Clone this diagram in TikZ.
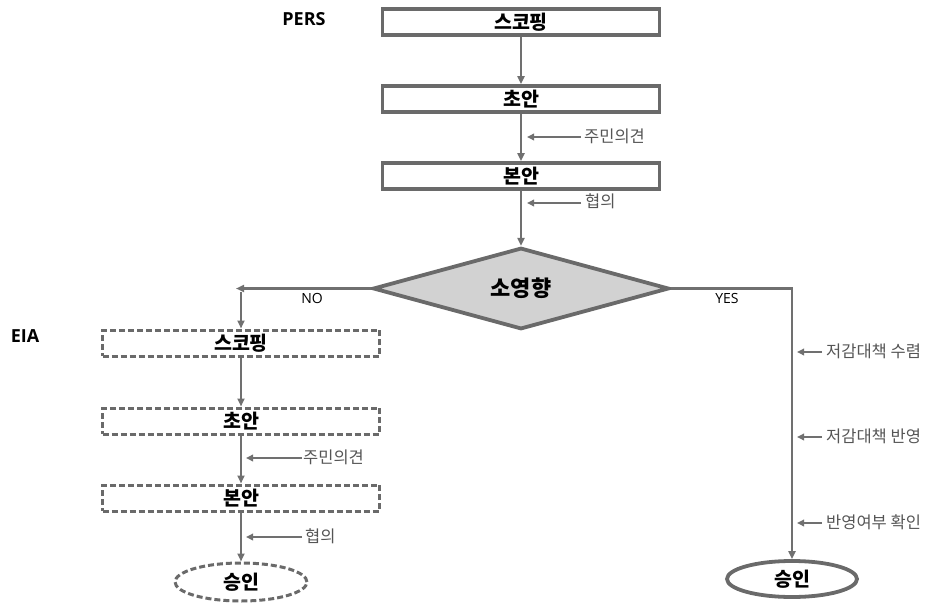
\documentclass[tikz,border=0pt]{standalone}
\usepackage{fontspec}
\setmainfont{Open Sans}
\newfontfamily\kr{Noto Sans CJK KR}
\usetikzlibrary{shapes.geometric,arrows.meta}
\definecolor{edge}{HTML}{6A6A6A}
\definecolor{flow}{HTML}{707070}
\definecolor{note}{HTML}{555555}
\definecolor{diafill}{HTML}{D2D2D2}
\begin{document}
\begin{tikzpicture}[x=1pt,y=-1pt,
  box/.style={draw=edge, line width=3.8pt, minimum width=277pt, minimum height=26pt,
    inner sep=0pt, font=\kr\bfseries\fontsize{19.5}{19.5}\selectfont},
  solidbox/.style={box},
  dashbox/.style={box, line width=3pt, dash pattern=on 6pt off 3pt},
  arr/.style={draw=flow, line width=2.3pt, -{Triangle[length=8pt,width=7pt]}},
  sidearr/.style={draw=flow, line width=2pt, -{Triangle[length=7pt,width=6.5pt]}},
  note/.style={anchor=west, inner sep=0pt, text=note, font=\kr\fontsize{16.5}{16.5}\selectfont},
  tag/.style={inner sep=0pt, font=\bfseries\fontsize{18}{18}\selectfont},
  branch/.style={inner sep=0pt, font=\fontsize{14}{14}\selectfont}]
\useasboundingbox (0,0) rectangle (927,605);

% headings
\node[tag] (pers) at (304,19) {PERS};
\node[tag] (eia) at (25,336) {EIA};

% PERS process
\node[solidbox] (p1) at (521,22) {스코핑};
\node[solidbox] (p2) at (521,99) {초안};
\node[solidbox] (p3) at (521,176) {본안};
\node[diamond, draw=edge, line width=3.8pt, fill=diafill, minimum width=296pt,
  minimum height=77pt, inner sep=0pt, font=\kr\bfseries\fontsize{22}{22}\selectfont]
  (dia) at (521,288.5) {소영향};

\draw[arr] (p1.south) -- (p2.north);
\draw[arr] (p2.south) -- (p3.north);
\draw[arr] (p3.south) -- (dia.north);

\coordinate (pa) at (581,137);
\coordinate (pb) at (581,203);
\draw[sidearr] (pa) -- (527,137);
\draw[sidearr] (pb) -- (527,203);
\node[note] (pal) at (584,136) {주민의견};
\node[note] (pbl) at (585,201) {협의};

% NO branch: EIA process
\node[dashbox] (e1) at (241,343) {스코핑};
\node[dashbox] (e2) at (241,421) {초안};
\node[dashbox] (e3) at (241,498) {본안};
\node[ellipse, draw=edge, line width=3pt, dash pattern=on 6pt off 3pt,
  minimum width=132pt, minimum height=38pt, inner sep=0pt,
  font=\kr\bfseries\fontsize{19.5}{19.5}\selectfont] (e4) at (241,582) {승인};

\coordinate (nl) at (236,288.5);
\coordinate (nd) at (241,292);
\draw[arr] (dia.west) -- (nl);
\draw[arr] (nd) -- (e1.north);
\node[branch] (no) at (312,298) {NO};

\draw[arr] (e1.south) -- (e2.north);
\draw[arr] (e2.south) -- (e3.north);
\draw[arr] (e3.south) -- (e4.north);

\coordinate (ea) at (302,458);
\coordinate (eb) at (302,537);
\draw[sidearr] (ea) -- (246,458);
\draw[sidearr] (eb) -- (246,537);
\node[note] (eal) at (303,457) {주민의견};
\node[note] (ebl) at (305,536) {협의};

% YES branch
\node[ellipse, draw=edge, line width=3.8pt, minimum width=130pt, minimum height=36pt,
  inner sep=0pt, font=\kr\bfseries\fontsize{19.5}{19.5}\selectfont] (y1) at (792,579) {승인};
\coordinate (yc) at (792,288.5);
\draw[arr] (dia.east) -- (yc) -- (y1.north);
\node[branch] (yes) at (727,298) {YES};

\coordinate (ya) at (822,352);
\coordinate (yb) at (822,437);
\coordinate (yd) at (822,523);
\draw[sidearr] (ya) -- (797,352);
\draw[sidearr] (yb) -- (797,437);
\draw[sidearr] (yd) -- (797,523);
\node[note] (yal) at (826,351) {저감대책 수렴};
\node[note] (ybl) at (826,436) {저감대책 반영};
\node[note] (ydl) at (826,522) {반영여부 확인};
\end{tikzpicture}
\end{document}
